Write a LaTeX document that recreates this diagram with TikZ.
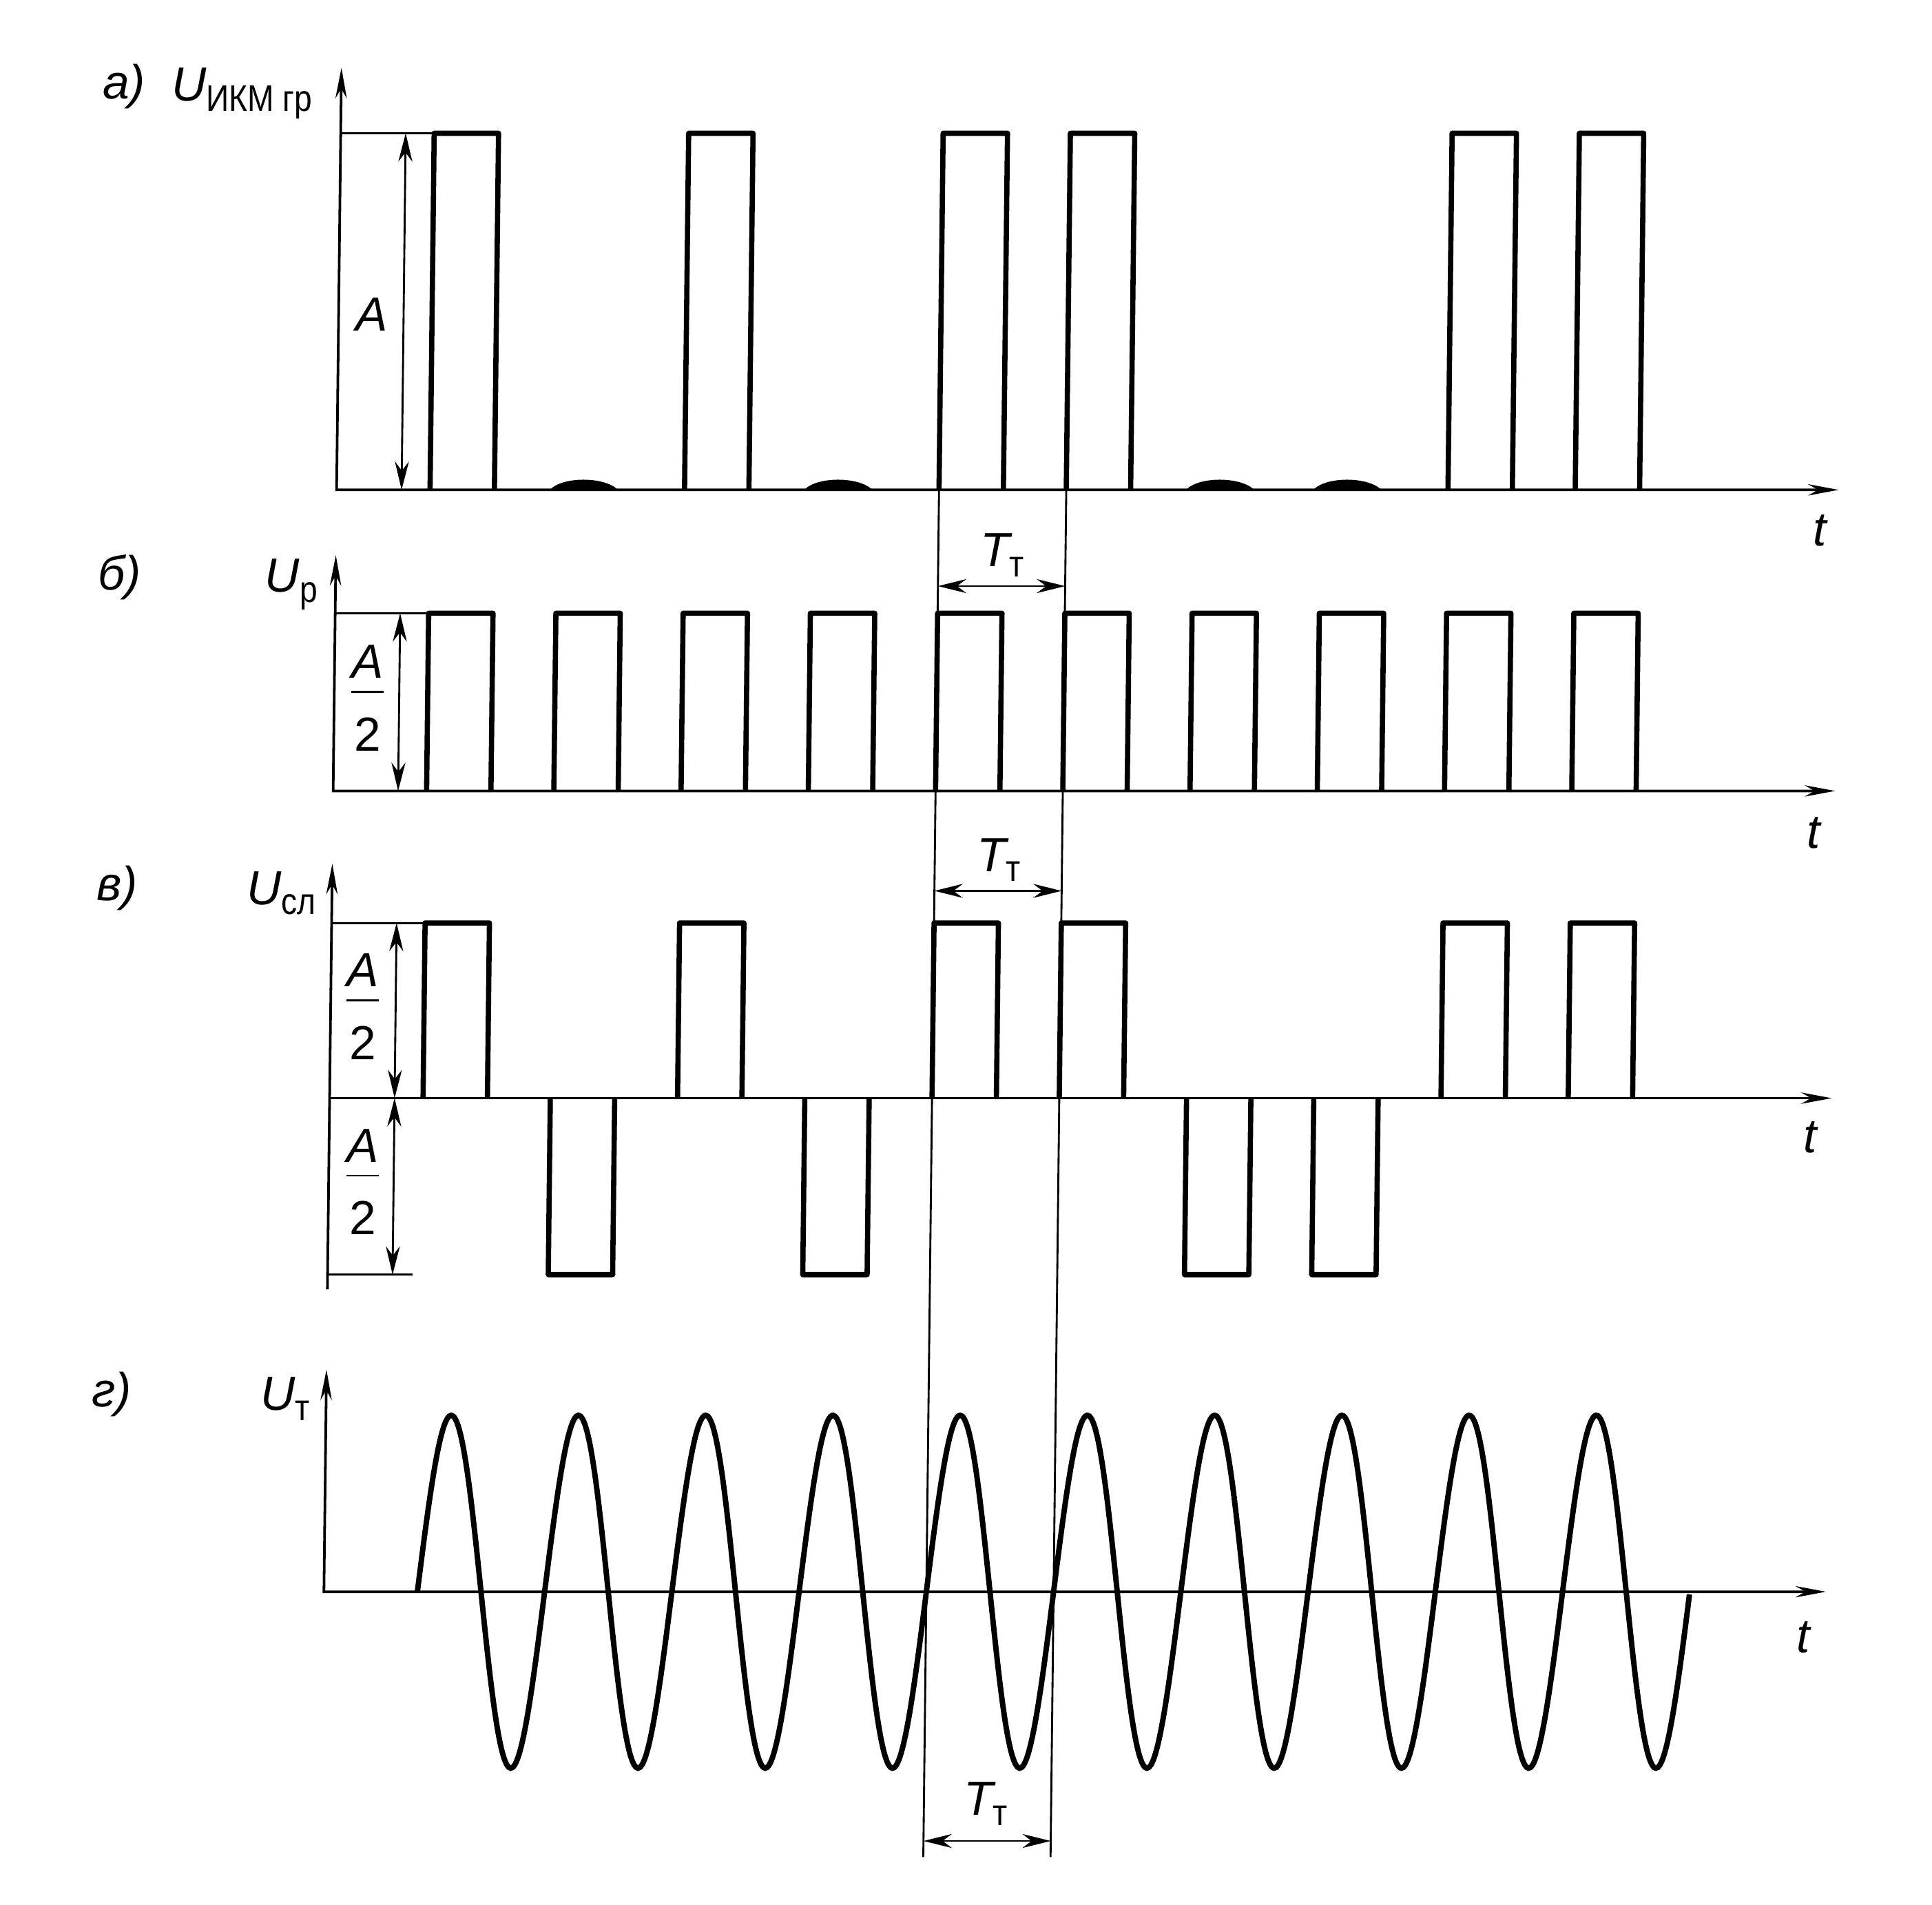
\documentclass[tikz,border=0pt]{standalone}
\usepackage{graphicx}
\usepackage{fontspec}
\setmainfont{Liberation Sans}
\usetikzlibrary{arrows.meta}
\newcommand\lsub[1]{\raisebox{-0.4ex}{\scalebox{0.86}[1]{\fontsize{8.5}{9}\selectfont\upshape #1}}}
\newcommand\halfA{\begin{tabular}{@{}c@{}}\itshape A\\[-1pt]\hline\rule{0pt}{2.3ex}\upshape 2\end{tabular}}
\tikzset{
  axes/.style={line width=0.6pt,{Stealth[length=7pt,width=2.6pt]}-{Stealth[length=7pt,width=2.6pt]}},
  axis/.style={line width=0.6pt,-{Stealth[length=7pt,width=2.6pt]}},
  pulse/.style={line width=1.2pt,line join=round},
  sine/.style={line width=1.25pt},
  guide/.style={line width=0.45pt},
  dim/.style={line width=0.45pt,{Stealth[length=6.5pt,width=3.2pt]}-{Stealth[length=6.5pt,width=3.2pt]}},
  lbl/.style={font=\fontsize{11}{13}\selectfont\itshape,inner sep=0pt},
}
\begin{document}
\begin{tikzpicture}[x=0.01cm,y=-0.00996cm]
\useasboundingbox (0,0) rectangle (15.6cm,-15.38cm);
\begin{scope}[xslant=0.0115]
% a) group signal
\draw[axes] (276.5,55) -- (276.5,397) -- (1490,397);
\draw[guide] (276.5,108) -- (352,108);
\foreach \k [evaluate=\k as \xa using 352+102.8*\k] in {0,2,4,5,8,9}
  \draw[pulse] (\xa,397) |- ({\xa+52},108) -- ({\xa+52},397);
\foreach \k [evaluate=\k as \xa using 352+102.8*\k] in {1,3,6,7}
  \fill ({\xa-6},397) .. controls ({\xa+4},386) and ({\xa+38},386) .. ({\xa+49},397) -- cycle;
\draw[dim] (329,108) -- (329,397);
\node[lbl] (la) at (101,70) {а)};
\node[lbl,anchor=base west] (Ua) at (139,82) {U\lsub{ИКМ гр}};
\node[lbl] (Aa) at (303,255) {A};
\node[lbl] (ta) at (1475,430) {t};
% b) clock pulses
\draw[axes] (276.5,450) -- (276.5,641) -- (1490,641);
\draw[guide] (276.5,497) -- (352,497);
\foreach \k [evaluate=\k as \xa using 352+102.8*\k] in {0,...,9}
  \draw[pulse] (\xa,641) |- ({\xa+52},497) -- ({\xa+52},641);
\draw[dim] (329,497) -- (329,641);
\node[lbl] (lb) at (102,468) {б)};
\node[lbl,anchor=base west] (Ub) at (219,480) {U\lsub{р}};
\node[lbl] (Ab) at (303.5,570) {\halfA};
\node[lbl] (tb) at (1473,675) {t};
% c) line signal
\draw[axis] (276.5,1045) -- (276.5,700);
\draw[axis] (276.5,890) -- (1490,890);
\draw[guide] (276.5,748) -- (352,748);
\draw[guide] (276.5,1033) -- (345,1033);
\foreach \k [evaluate=\k as \xa using 352+102.8*\k] in {0,2,4,5,8,9}
  \draw[pulse] (\xa,890) |- ({\xa+52},748) -- ({\xa+52},890);
\foreach \k [evaluate=\k as \xa using 352+102.8*\k] in {1,3,6,7}
  \draw[pulse] (\xa,890) |- ({\xa+52},1033) -- ({\xa+52},890);
\draw[dim] (329,748) -- (329,890);
\draw[dim] (329,890) -- (329,1033);
\node[lbl] (lc) at (103,720) {в)};
\node[lbl,anchor=base west] (Uc) at (207,733) {U\lsub{сл}};
\node[lbl] (Ac) at (302.4,820) {\halfA};
\node[lbl] (Ac2) at (304,962) {\halfA};
\node[lbl] (tc) at (1473,922) {t};
% d) clock wave
\draw[axes] (276.5,1110) -- (276.5,1290) -- (1490,1290);
\draw[sine] plot[domain=0:10,samples=601,smooth] ({352+102.8*\x},{1290-143*sin(360*\x)});
\node[lbl] (ld) at (103,1130) {г)};
\node[lbl,anchor=base west] (Ud) at (223,1143) {U\lsub{т}};
\node[lbl] (td) at (1472,1327) {t};
% clock period marks
\draw[guide] (763.2,397) -- (763.2,1505);
\draw[guide] (866,397) -- (866,1505);
\draw[dim] (763.2,475) -- (866,475);
\draw[dim] (763.2,722) -- (866,722);
\draw[dim] (763.2,1492) -- (866,1492);
\node[lbl] (T1) at (815,450) {T\lsub{т}};
\node[lbl] (T2) at (815,697) {T\lsub{т}};
\node[lbl] (T3) at (813,1462) {T\lsub{т}};
\end{scope}
\end{tikzpicture}
\end{document}
